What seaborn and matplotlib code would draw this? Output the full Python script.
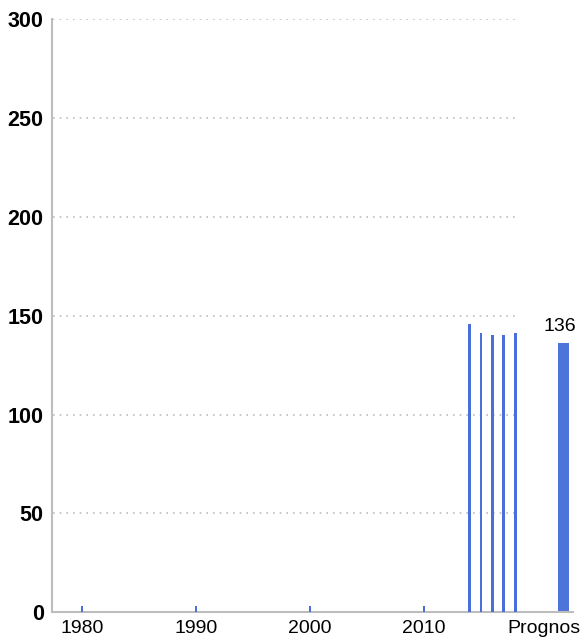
import numpy as np
import pandas as pd
import matplotlib
matplotlib.use("Agg")
import matplotlib.pyplot as plt
import seaborn as sns

# ---- data ----
years = [1980, 1990, 2000, 2010, 2014, 2015, 2016, 2017, 2018]
values = [3, 3, 3, 3, 146, 141, 140, 140, 141]
prognos_label = "Prognos"
prognos_value = 136
year_ticks = [1980, 1990, 2000, 2010]
y_ticks = [0, 50, 100, 150, 200, 250, 300]

# ---- layout / style ----
PROGNOS_X = 2022.2
PROGNOS_TICK_X = 2020.5
BAR_COLOR = "#4a6fdb"
PROG_COLOR = "#4d74d9"
AXIS_COLOR = "#bdbdbd"

sns.set_theme(style="white")
plt.rcParams["font.family"] = ["Liberation Sans", "DejaVu Sans"]

fig = plt.figure(figsize=(5.87, 6.43), dpi=100)
ax = fig.add_axes([0.0886, 0.048, 0.8876, 0.922])

df = pd.DataFrame({"year": years, "value": values})
sns.barplot(data=df, x="year", y="value", native_scale=True, width=0.25,
            color=BAR_COLOR, saturation=1, linewidth=0, ax=ax, zorder=3)
ax.bar([PROGNOS_X], [prognos_value], width=0.95, color=PROG_COLOR, linewidth=0)
ax.text(PROGNOS_X - 0.3, prognos_value + 4, str(prognos_value),
        ha="center", va="bottom", fontsize=14, color="black")

ax.set_xlim(1977.37, 2023.07)
ax.set_ylim(0, 300)

# dotted gridlines only across the historical range
ax.hlines(y_ticks[1:], 1977.45, max(years) + 0.15, colors="#bdbdbd",
          linestyles=(0, (1, 3)), linewidth=1.2, zorder=0)

ax.set_yticks(y_ticks)
ax.set_yticklabels([str(t) for t in y_ticks], fontsize=15.5, fontweight="bold")
ax.set_xticks(year_ticks + [PROGNOS_TICK_X])
ax.set_xticklabels([str(t) for t in year_ticks] + [prognos_label], fontsize=14)
ax.tick_params(axis="both", length=0, colors="black")
ax.tick_params(axis="x", pad=6)
ax.tick_params(axis="y", pad=6)

for side in ["top", "right"]:
    ax.spines[side].set_visible(False)
for side in ["left", "bottom"]:
    ax.spines[side].set_color(AXIS_COLOR)
    ax.spines[side].set_linewidth(1.5)

ax.set_xlabel("")
ax.set_ylabel("")

fig.savefig("out.png", dpi=100)
